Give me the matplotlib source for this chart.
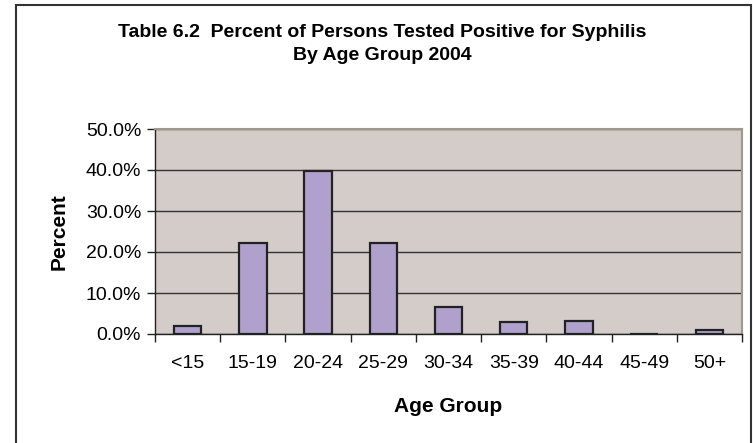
import matplotlib
matplotlib.use("Agg")
import matplotlib.pyplot as plt
import numpy as np
from matplotlib.patches import Rectangle
from matplotlib.ticker import FixedLocator, PercentFormatter

# Data
age_groups = ["<15", "15-19", "20-24", "25-29", "30-34", "35-39", "40-44", "45-49", "50+"]
percent_positive = [2.0, 22.2, 39.8, 22.2, 6.5, 2.9, 3.2, 0.0, 0.9]

title_text = "Table 6.2  Percent of Persons Tested Positive for Syphilis\nBy Age Group 2004"

plt.rcParams["font.family"] = ["Liberation Sans", "DejaVu Sans"]

fig = plt.figure(figsize=(7.53, 4.43), dpi=100)
ax = fig.add_axes([155 / 753, 1 - 334 / 443, (742 - 155) / 753, (334 - 129) / 443])

# outer chart frame
fig.patches.append(Rectangle((16 / 753, -0.01), (751 - 16) / 753, 1 - 5 / 443 + 0.01,
                             transform=fig.transFigure, fill=False,
                             edgecolor="#333333", linewidth=1.5))

x = np.arange(len(age_groups))
ax.set_facecolor("#D4CCC8")
ax.bar(x, percent_positive, width=0.42, color="#B0A0CC", edgecolor="#222222",
       linewidth=1.6, zorder=3)

ax.set_xlim(-0.5, len(age_groups) - 0.5)
ax.set_ylim(0, 50)
ax.yaxis.set_major_locator(FixedLocator([0, 10, 20, 30, 40, 50]))
ax.yaxis.set_major_formatter(PercentFormatter(decimals=1))
ax.grid(axis="y", color="#333333", linewidth=1.0, zorder=1)

# tick marks at category boundaries, labels at centers
ax.set_xticks(np.arange(-0.5, len(age_groups)), minor=False)
ax.set_xticklabels([])
ax.set_xticks(x, minor=True)
ax.set_xticklabels(age_groups, minor=True)
ax.tick_params(axis="x", which="major", direction="out", length=6, width=1, color="#222222")
ax.tick_params(axis="x", which="minor", length=0, pad=15, labelsize=14)
ax.tick_params(axis="y", direction="out", length=6, width=1, color="#222222", labelsize=14, pad=4)

for side in ["top", "right"]:
    ax.spines[side].set_color("#A09890")
    ax.spines[side].set_linewidth(1.5)
for side in ["left", "bottom"]:
    ax.spines[side].set_color("#222222")
    ax.spines[side].set_linewidth(1.0)

ax.set_xlabel("Age Group", fontsize=15, fontweight="bold", labelpad=18)
ax.set_ylabel("Percent", fontsize=15, fontweight="bold", labelpad=12)

fig.text(382 / 753, 1 - 44 / 443, title_text, ha="center", va="center",
         fontsize=14, fontweight="bold", linespacing=1.45)

fig.savefig("out.png", dpi=100)
